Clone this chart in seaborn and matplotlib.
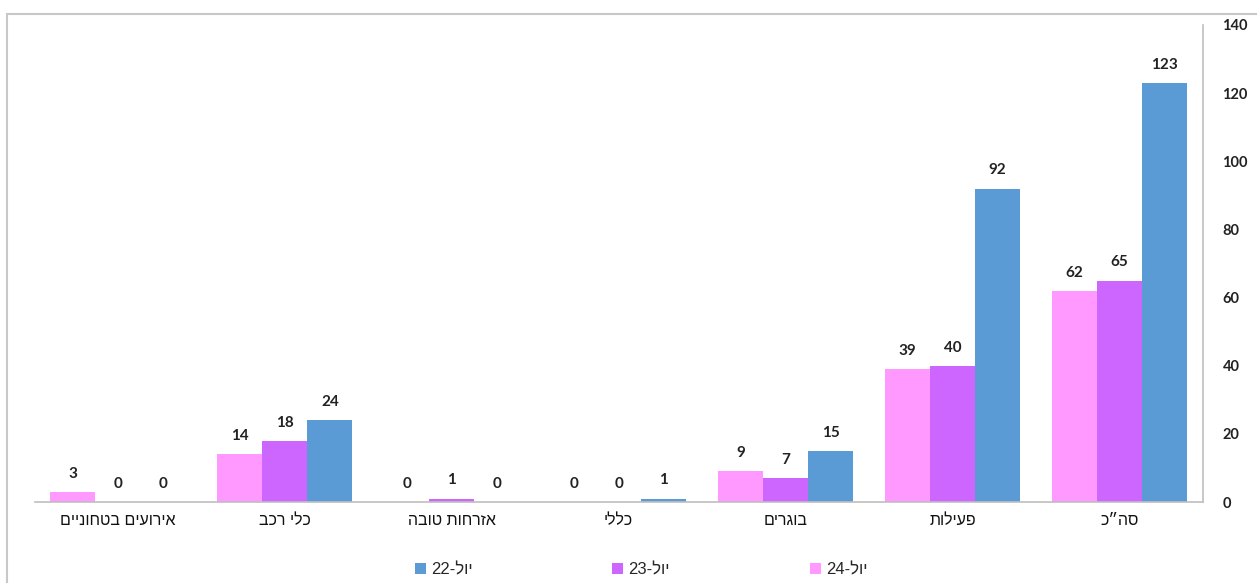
import re
import matplotlib
matplotlib.use("Agg")
import matplotlib.pyplot as plt
import seaborn as sns
import pandas as pd
from matplotlib.patches import Rectangle

categories = ["אירועים בטחוניים", "כלי רכב", "אזרחות טובה", "כללי", "בוגרים", "פעילות", "סה״כ"]
series_names = ["יול-24", "יול-23", "יול-22"]
values_24 = [3, 14, 0, 0, 9, 39, 62]
values_23 = [0, 18, 1, 0, 7, 40, 65]
values_22 = [0, 24, 0, 1, 15, 92, 123]
colors = ["#FF99FF", "#CC66FF", "#5B9BD5"]
y_ticks = [0, 20, 40, 60, 80, 100, 120, 140]


def visual(s):
    """Convert logical RTL text to visual (left-to-right) order."""
    r = s[::-1]
    return re.sub(r"[0-9]+", lambda m: m.group(0)[::-1], r)


rows = []
for name, vals in zip(series_names, [values_24, values_23, values_22]):
    for c, v in zip(categories, vals):
        rows.append({"cat": c, "series": name, "val": v})
df = pd.DataFrame(rows)

sns.set_theme(style="white")
plt.rcParams["font.family"] = ["Liberation Sans", "DejaVu Sans"]

fig = plt.figure(figsize=(12.57, 5.83), dpi=100)
ax = fig.add_axes([34.5 / 1257, 81 / 583, (1203 - 34.5) / 1257, 477 / 583])

sns.barplot(data=df, x="cat", y="val", hue="series", order=categories,
            hue_order=series_names, palette=colors, saturation=1,
            width=0.81, ax=ax, legend=True, errorbar=None, linewidth=0)

for cont in ax.containers:
    ax.bar_label(cont, fmt="%g", padding=8, fontsize=11, fontweight="bold",
                 color="#222222", family=["Lato", "DejaVu Sans"])

ax.set_ylim(0, 140)
ax.set_xlim(-0.5, len(categories) - 0.5)
ax.yaxis.tick_right()
ax.set_yticks(y_ticks)
ax.set_yticklabels([str(t) for t in y_ticks], family=["Lato", "DejaVu Sans"],
                   fontsize=10.5, fontweight="bold", color="#222222")
ax.set_xticks(range(len(categories)))
ax.set_xticklabels([visual(c) for c in categories], fontsize=11.5, color="#111111")
ax.tick_params(axis="both", length=0)
ax.tick_params(axis="x", pad=8)
ax.tick_params(axis="y", pad=14)
ax.set_xlabel("")
ax.set_ylabel("")
for side in ["top", "left"]:
    ax.spines[side].set_visible(False)
ax.spines["right"].set_color("#BFBFBF")
ax.spines["bottom"].set_color("#BFBFBF")
ax.spines["right"].set_linewidth(1.2)
ax.spines["bottom"].set_linewidth(1.2)

handles, labels = ax.get_legend_handles_labels()
ax.get_legend().remove()
handles = handles[::-1]
labels = [visual(l) for l in labels[::-1]]
fig.legend(handles, labels, loc="center", bbox_to_anchor=(0.51, 1 - 570 / 583),
           ncol=3, frameon=False, handlelength=0.65, handleheight=0.65,
           handletextpad=0.3, columnspacing=8.4, fontsize=12)

fig.patches.append(Rectangle((7 / 1257, -0.1), 1.1, (583 - 14) / 583 + 0.1,
                             transform=fig.transFigure, fill=False,
                             edgecolor="#C8C8C8", linewidth=1.5))

fig.savefig("out.png", dpi=100, facecolor="white")
